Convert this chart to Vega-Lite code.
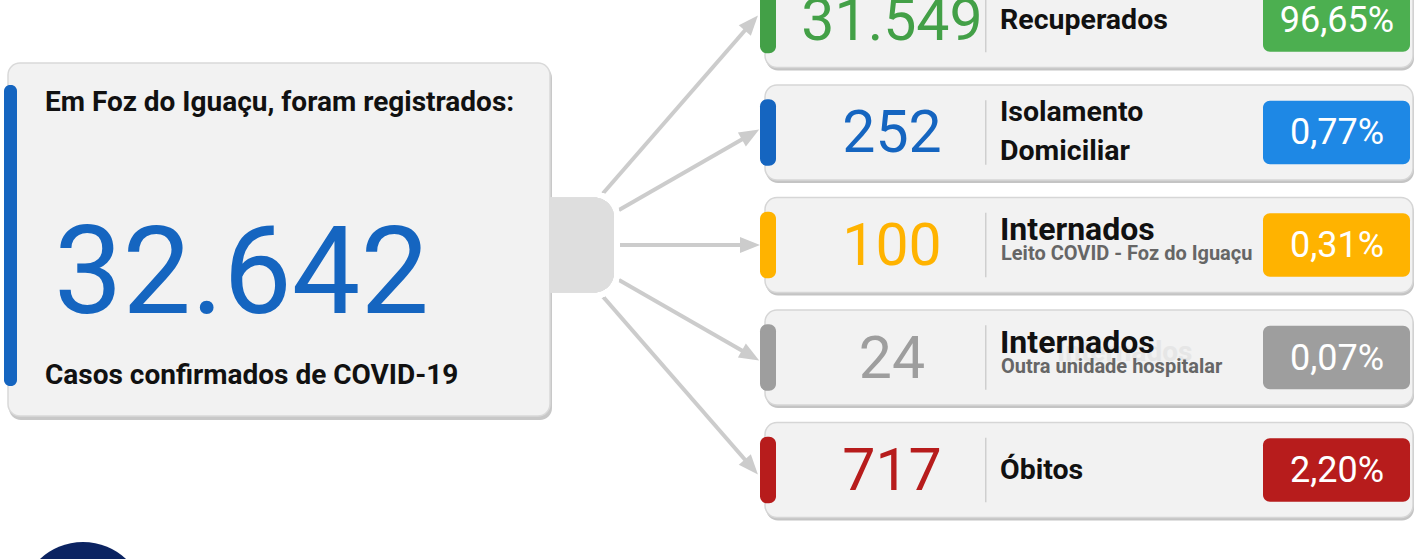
{
"$schema":"https://vega.github.io/schema/vega-lite/v6.json",
"width":1417,"height":559,"autosize":{"type":"none"},"padding":0,"background":"#ffffff",
"config":{"view":{"stroke":null},"axis":{"disable":true},"legend":{"disable":true},
"locale":{"number":{"decimal":",","thousands":".","grouping":[3],"currency":["R$",""]}},
"text":{"font":"Roboto"}},
"resolve":{"scale":{"y":"independent"}},
"layer":[
{
"data":{"values":[{"intro":"Em Foz do Iguaçu, foram registrados:","total":32642,"caption":"Casos confirmados de COVID-19"}]},
"layer":[
{"mark":{"type":"rect","fill":"#c8c8c8","cornerRadius":12},
"encoding":{"x":{"datum":9,"type":"quantitative","scale":{"domain":[0,1417],"nice":false,"zero":false}},"x2":{"datum":552},
"y":{"datum":66,"type":"quantitative","scale":{"domain":[0,559],"range":[0,559],"nice":false,"zero":false}},"y2":{"datum":420}}},
{"mark":{"type":"rect","fill":"#f2f2f2","stroke":"#d9d9d9","strokeWidth":1.5,"cornerRadius":12},
"encoding":{"x":{"datum":8,"type":"quantitative","scale":{"domain":[0,1417],"nice":false,"zero":false}},"x2":{"datum":550},
"y":{"datum":63,"type":"quantitative","scale":{"domain":[0,559],"range":[0,559],"nice":false,"zero":false}},"y2":{"datum":416}}},
{"mark":{"type":"rect","fill":"#1565C0","cornerRadius":6},
"encoding":{"x":{"datum":4,"type":"quantitative","scale":{"domain":[0,1417],"nice":false,"zero":false}},"x2":{"datum":17},
"y":{"datum":85,"type":"quantitative","scale":{"domain":[0,559],"range":[0,559],"nice":false,"zero":false}},"y2":{"datum":386}}},
{"mark":{"type":"text","align":"left","baseline":"middle","fontSize":28,"fontWeight":"bold","color":"#111111"},
"encoding":{"x":{"datum":45,"type":"quantitative","scale":{"domain":[0,1417],"nice":false,"zero":false}},
"y":{"datum":103,"type":"quantitative","scale":{"domain":[0,559],"range":[0,559],"nice":false,"zero":false}},
"text":{"field":"intro"}}},
{"mark":{"type":"text","align":"left","baseline":"alphabetic","fontSize":122,"color":"#1565C0"},
"encoding":{"x":{"datum":54,"type":"quantitative","scale":{"domain":[0,1417],"nice":false,"zero":false}},
"y":{"datum":313,"type":"quantitative","scale":{"domain":[0,559],"range":[0,559],"nice":false,"zero":false}},
"text":{"field":"total","type":"quantitative","format":",d"}}},
{"mark":{"type":"text","align":"left","baseline":"middle","fontSize":28,"fontWeight":"bold","color":"#111111"},
"encoding":{"x":{"datum":45,"type":"quantitative","scale":{"domain":[0,1417],"nice":false,"zero":false}},
"y":{"datum":376,"type":"quantitative","scale":{"domain":[0,559],"range":[0,559],"nice":false,"zero":false}},
"text":{"field":"caption"}}},
{"mark":{"type":"point","shape":"circle","filled":true,"opacity":1,"color":"#0b2361","size":15876},
"encoding":{"x":{"datum":83,"type":"quantitative","scale":{"domain":[0,1417],"nice":false,"zero":false}},
"y":{"datum":605,"type":"quantitative","scale":{"domain":[0,559],"range":[0,559],"nice":false,"zero":false}}}}
]
},
{
"data":{"values":[
{"key":"Recuperados","value":31549,"pct":0.9665,"title":"Recuperados","sub":null},
{"key":"Isolamento Domiciliar","value":252,"pct":0.0077,"title":"Isolamento\nDomiciliar","sub":null},
{"key":"Internados Leito COVID","value":100,"pct":0.0031,"title":"Internados","sub":"Leito COVID - Foz do Iguaçu"},
{"key":"Internados Outra unidade","value":24,"pct":0.0007,"title":"Internados","sub":"Outra unidade hospitalar"},
{"key":"Óbitos","value":717,"pct":0.022,"title":"Óbitos","sub":null}
]},
"encoding":{"y":{"field":"key","type":"nominal","scale":{"type":"band","domain":["Recuperados","Isolamento Domiciliar","Internados Leito COVID","Internados Outra unidade","Óbitos"],"range":[-27.5,517.5],"paddingInner":0.1556,"paddingOuter":0}}},
"layer":[
{"mark":{"type":"rect","fill":"#c4c4c4","cornerRadius":12,"yOffset":3,"y2Offset":3},
"encoding":{"x":{"datum":766,"type":"quantitative","scale":{"domain":[0,1417],"nice":false,"zero":false}},"x2":{"datum":1414}}},
{"mark":{"type":"rect","fill":"#f2f2f2","stroke":"#d6d6d6","strokeWidth":1.5,"cornerRadius":12},
"encoding":{"x":{"datum":765,"type":"quantitative","scale":{"domain":[0,1417],"nice":false,"zero":false}},"x2":{"datum":1413}}},
{"mark":{"type":"rule","color":"#cccccc","strokeWidth":4},
"encoding":{"x":{"datum":754,"type":"quantitative","scale":{"domain":[0,1417],"nice":false,"zero":false}},"x2":{"datum":558},
"y":{"field":"key","type":"nominal","bandPosition":0.5,"scale":{"type":"band","domain":["Recuperados","Isolamento Domiciliar","Internados Leito COVID","Internados Outra unidade","Óbitos"],"range":[-27.5,517.5],"paddingInner":0.1556,"paddingOuter":0}},
"y2":{"datum":"Internados Leito COVID"}}},
{"mark":{"type":"point","filled":true,"opacity":1,"color":"#cccccc","size":400,"strokeWidth":0},
"encoding":{"x":{"datum":754,"type":"quantitative","scale":{"domain":[0,1417],"nice":false,"zero":false}},
"shape":{"field":"key","type":"nominal","scale":{"domain":["Recuperados","Isolamento Domiciliar","Internados Leito COVID","Internados Outra unidade","Óbitos"],
"range":["M0.394,-0.453L-1.522,0.532L-0.315,1.582Z","M0.520,-0.300L-1.612,0.007L-0.812,1.393Z","M0.6,0L-1.4,-0.8L-1.4,0.8Z","M0.520,0.300L-0.812,-1.393L-1.612,-0.007Z","M0.394,0.453L-1.522,-0.532L-0.315,-1.582Z"]}}}},
{"mark":{"type":"rect","fill":"#ffffff","stroke":"#ffffff","strokeWidth":12,"cornerRadius":20},
"encoding":{"x":{"datum":556,"type":"quantitative","scale":{"domain":[0,1417],"nice":false,"zero":false}},"x2":{"datum":614},
"y":{"datum":"Internados Leito COVID","type":"nominal","scale":{"type":"band","domain":["Recuperados","Isolamento Domiciliar","Internados Leito COVID","Internados Outra unidade","Óbitos"],"range":[-27.5,517.5],"paddingInner":0.1556,"paddingOuter":0}}}},
{"mark":{"type":"rect","fill":"#dedede","cornerRadiusTopRight":20,"cornerRadiusBottomRight":20},
"encoding":{"x":{"datum":549,"type":"quantitative","scale":{"domain":[0,1417],"nice":false,"zero":false}},"x2":{"datum":614},
"y":{"datum":"Internados Leito COVID","type":"nominal","scale":{"type":"band","domain":["Recuperados","Isolamento Domiciliar","Internados Leito COVID","Internados Outra unidade","Óbitos"],"range":[-27.5,517.5],"paddingInner":0.1556,"paddingOuter":0}}}},
{"mark":{"type":"rect","cornerRadius":7,"height":{"band":0.7}},
"encoding":{"x":{"datum":760,"type":"quantitative","scale":{"domain":[0,1417],"nice":false,"zero":false}},"x2":{"datum":776},
"color":{"field":"key","type":"nominal","scale":{"domain":["Recuperados","Isolamento Domiciliar","Internados Leito COVID","Internados Outra unidade","Óbitos"],"range":["#43A047","#1565C0","#FFB300","#9E9E9E","#B71C1C"]}}}},
{"mark":{"type":"rect","fill":"#cfcfcf","height":{"band":0.68}},
"encoding":{"x":{"datum":985,"type":"quantitative","scale":{"domain":[0,1417],"nice":false,"zero":false}},"x2":{"datum":986.5}}},
{"mark":{"type":"text","align":"center","baseline":"middle","fontSize":59,"dy":2},
"encoding":{"x":{"datum":892,"type":"quantitative","scale":{"domain":[0,1417],"nice":false,"zero":false}},
"text":{"field":"value","type":"quantitative","format":",d"},
"color":{"field":"key","type":"nominal","scale":{"domain":["Recuperados","Isolamento Domiciliar","Internados Leito COVID","Internados Outra unidade","Óbitos"],"range":["#43A047","#1565C0","#FFB300","#9E9E9E","#B71C1C"]}}}},
{"transform":[{"filter":"!datum.sub && datum.key != 'Isolamento Domiciliar'"}],
"mark":{"type":"text","align":"left","baseline":"middle","fontSize":28.5,"fontWeight":"bold","color":"#111111","dy":0},
"encoding":{"x":{"datum":1000,"type":"quantitative","scale":{"domain":[0,1417],"nice":false,"zero":false}},"text":{"field":"title"}}},
{"transform":[{"filter":"datum.key == 'Isolamento Domiciliar'"}],
"mark":{"type":"text","align":"left","baseline":"middle","fontSize":28.5,"fontWeight":"bold","color":"#111111","lineBreak":"\n","lineHeight":39,"dy":-20},
"encoding":{"x":{"datum":1000,"type":"quantitative","scale":{"domain":[0,1417],"nice":false,"zero":false}},"text":{"field":"title"}}},
{"transform":[{"filter":"datum.key == 'Internados Outra unidade'"}],
"mark":{"type":"text","align":"left","baseline":"middle","fontSize":28,"fontWeight":"bold","color":"#e6e6e6","dy":-5},
"encoding":{"x":{"datum":1057,"type":"quantitative","scale":{"domain":[0,1417],"nice":false,"zero":false}},"text":{"field":"title"}}},
{"transform":[{"filter":"datum.sub"}],
"mark":{"type":"text","align":"left","baseline":"middle","fontSize":32,"fontWeight":"bold","color":"#111111","dy":-15},
"encoding":{"x":{"datum":1000,"type":"quantitative","scale":{"domain":[0,1417],"nice":false,"zero":false}},"text":{"field":"title"}}},
{"transform":[{"filter":"datum.sub"}],
"mark":{"type":"text","align":"left","baseline":"middle","fontSize":20,"fontWeight":"bold","color":"#666666","dy":9},
"encoding":{"x":{"datum":1001,"type":"quantitative","scale":{"domain":[0,1417],"nice":false,"zero":false}},"text":{"field":"sub"}}},
{"mark":{"type":"rect","cornerRadius":7,"height":{"band":0.67}},
"encoding":{"x":{"datum":1263,"type":"quantitative","scale":{"domain":[0,1417],"nice":false,"zero":false}},"x2":{"datum":1410},
"fill":{"field":"key","type":"nominal","scale":{"domain":["Recuperados","Isolamento Domiciliar","Internados Leito COVID","Internados Outra unidade","Óbitos"],"range":["#4CAF50","#1E88E5","#FFB300","#9E9E9E","#B71C1C"]}}}},
{"mark":{"type":"text","align":"center","baseline":"middle","fontSize":36,"color":"#ffffff","dy":1},
"encoding":{"x":{"datum":1337,"type":"quantitative","scale":{"domain":[0,1417],"nice":false,"zero":false}},
"text":{"field":"pct","type":"quantitative","format":".2%"}}}
]
}
]
}
